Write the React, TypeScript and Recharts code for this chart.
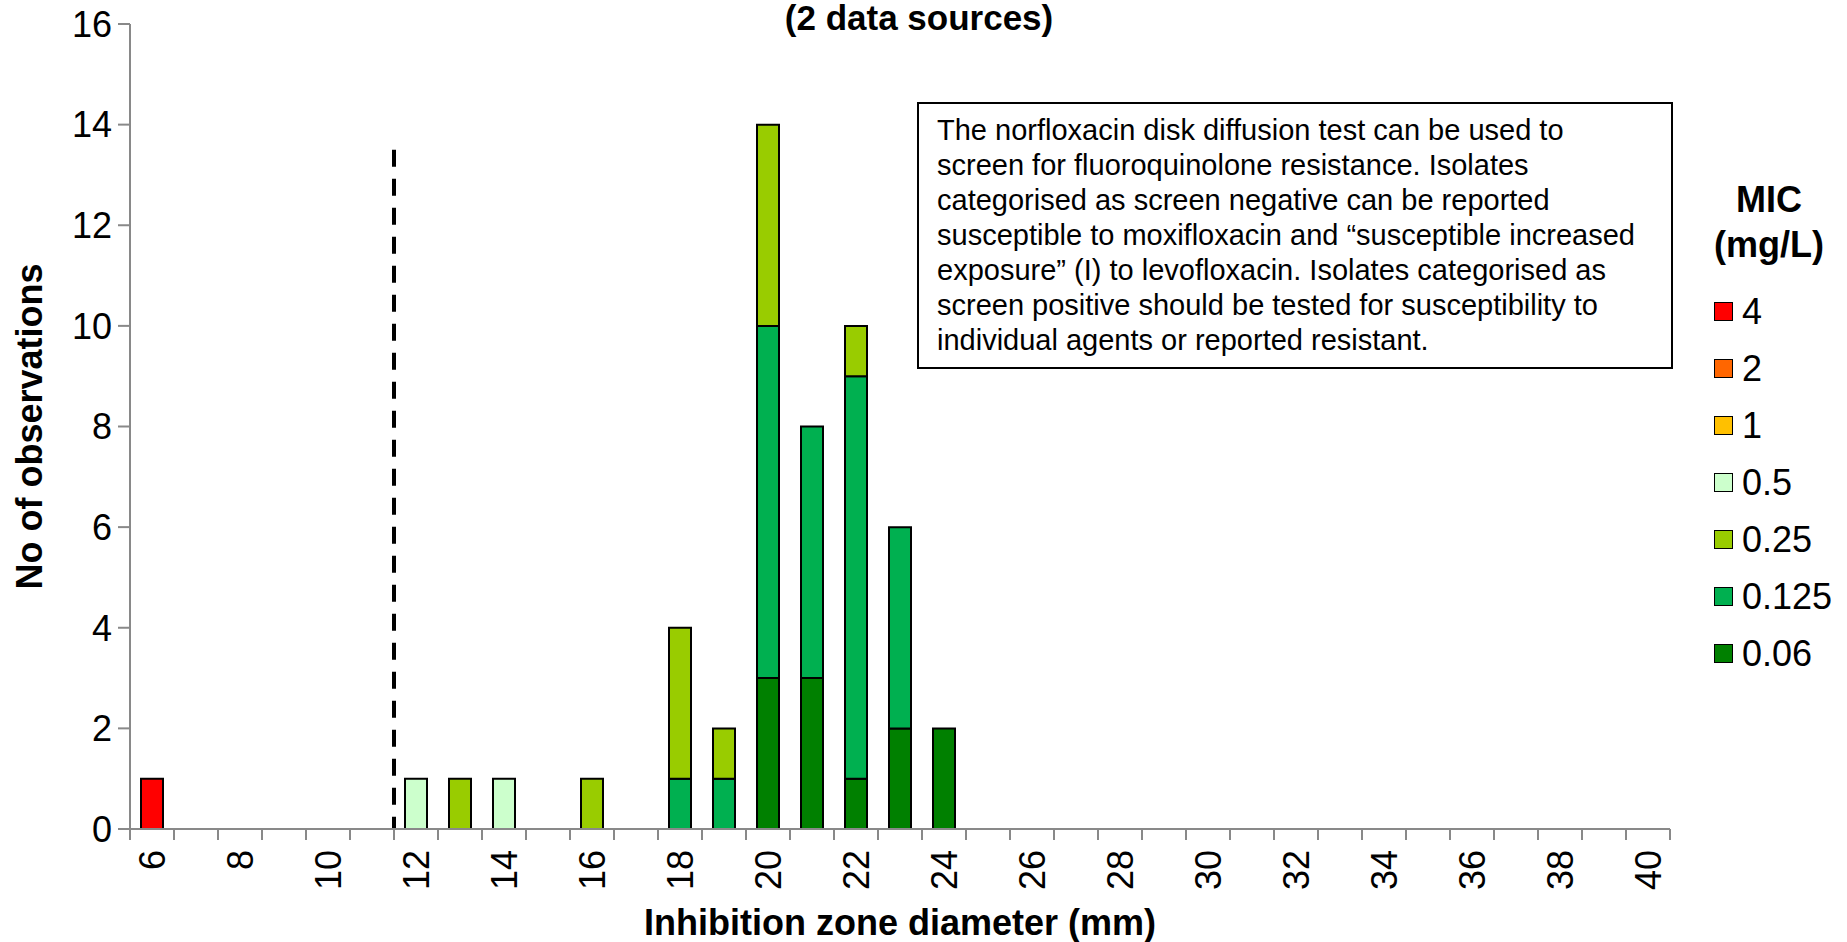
import React from 'react'
import { BarChart, Bar, XAxis, YAxis, ReferenceLine } from 'recharts'

// inhibition zone diameter (mm), one bar per mm
const zones = [6, 7, 8, 9, 10, 11, 12, 13, 14, 15, 16, 17, 18, 19, 20, 21, 22, 23, 24, 25, 26, 27, 28, 29, 30, 31, 32, 33, 34, 35, 36, 37, 38, 39, 40]

// counts per MIC (mg/L), same order as zones
const mic4 = [1, 0, 0, 0, 0, 0, 0, 0, 0, 0, 0, 0, 0, 0, 0, 0, 0, 0, 0, 0, 0, 0, 0, 0, 0, 0, 0, 0, 0, 0, 0, 0, 0, 0, 0]
const mic2 = [0, 0, 0, 0, 0, 0, 0, 0, 0, 0, 0, 0, 0, 0, 0, 0, 0, 0, 0, 0, 0, 0, 0, 0, 0, 0, 0, 0, 0, 0, 0, 0, 0, 0, 0]
const mic1 = [0, 0, 0, 0, 0, 0, 0, 0, 0, 0, 0, 0, 0, 0, 0, 0, 0, 0, 0, 0, 0, 0, 0, 0, 0, 0, 0, 0, 0, 0, 0, 0, 0, 0, 0]
const mic05 = [0, 0, 0, 0, 0, 0, 1, 0, 1, 0, 0, 0, 0, 0, 0, 0, 0, 0, 0, 0, 0, 0, 0, 0, 0, 0, 0, 0, 0, 0, 0, 0, 0, 0, 0]
const mic025 = [0, 0, 0, 0, 0, 0, 0, 1, 0, 0, 1, 0, 3, 1, 4, 0, 1, 0, 0, 0, 0, 0, 0, 0, 0, 0, 0, 0, 0, 0, 0, 0, 0, 0, 0]
const mic0125 = [0, 0, 0, 0, 0, 0, 0, 0, 0, 0, 0, 0, 1, 1, 7, 5, 8, 4, 0, 0, 0, 0, 0, 0, 0, 0, 0, 0, 0, 0, 0, 0, 0, 0, 0]
const mic006 = [0, 0, 0, 0, 0, 0, 0, 0, 0, 0, 0, 0, 0, 0, 3, 3, 1, 2, 2, 0, 0, 0, 0, 0, 0, 0, 0, 0, 0, 0, 0, 0, 0, 0, 0]

// legend order (top to bottom)
const micLabels = ['4', '2', '1', '0.5', '0.25', '0.125', '0.06']
const micKeys = ['m4', 'm2', 'm1', 'm05', 'm025', 'm0125', 'm006']
const micColors = ['#FF0000', '#FF6600', '#FFC000', '#CCFFCC', '#99CC00', '#00B050', '#008000']

const yTicks = [0, 2, 4, 6, 8, 10, 12, 14, 16]
const breakpoint = 11.5
const breakpointTop = 13.5

const noteLines = [
  'The norfloxacin disk diffusion test can be used to',
  'screen for fluoroquinolone resistance. Isolates',
  'categorised as screen negative can be reported',
  'susceptible to moxifloxacin and \u201csusceptible increased',
  'exposure\u201d (I) to levofloxacin. Isolates categorised as',
  'screen positive should be tested for susceptibility to',
  'individual agents or reported resistant.',
]

const data = zones.map((z, i) => ({
  zone: z,
  m4: mic4[i],
  m2: mic2[i],
  m1: mic1[i],
  m05: mic05[i],
  m025: mic025[i],
  m0125: mic0125[i],
  m006: mic006[i],
}))

// boundary ticks between bars + centre ticks for labels
const xTicks = [...zones.flatMap((z) => [z - 0.5, z]), zones[zones.length - 1] + 0.5]

const FONT = '"Liberation Sans", Arial, sans-serif'
const AXIS = '#898989'

const ZoneTick = (props: any) => {
  const { x, y, payload } = props
  const v = payload.value
  if (!Number.isInteger(v)) {
    return <line x1={x} x2={x} y1={y} y2={y + 11} stroke={AXIS} strokeWidth={2} />
  }
  if (v % 2 !== 0) return <g />
  return (
    <text x={x} y={y + 21} transform={`rotate(-90 ${x} ${y + 21})`} textAnchor="end" dominantBaseline="central" fontSize={36} fill="#000">
      {v}
    </text>
  )
}

const App = () => {
  const bottomUp = [...micKeys].reverse()
  const bottomColors = [...micColors].reverse()
  return (
    <div style={{ position: 'absolute', left: 0, top: 0, width: 1847, height: 942, fontFamily: FONT, background: '#fff' }}>
      <BarChart width={1847} height={942} data={data} margin={{ top: 24, right: 177, bottom: 0, left: 0 }}>
        <XAxis
          type="number"
          dataKey="zone"
          domain={[5.5, 40.5]}
          ticks={xTicks}
          interval={0}
          tick={<ZoneTick />}
          tickLine={false}
          tickSize={0}
          tickMargin={0}
          axisLine={{ stroke: AXIS, strokeWidth: 2 }}
          height={113}
          label={(p: any) => {
            const vb = p.viewBox
            return (
              <text x={vb.x + vb.width / 2} y={935} textAnchor="middle" fontSize={36} fontWeight="bold" fill="#000">
                Inhibition zone diameter (mm)
              </text>
            )
          }}
        />
        <YAxis
          type="number"
          domain={[0, 16]}
          ticks={yTicks}
          interval={0}
          width={130}
          tickSize={12}
          tickMargin={6}
          tick={{ fontSize: 36, fill: '#000' }}
          tickLine={{ stroke: AXIS, strokeWidth: 2 }}
          axisLine={{ stroke: AXIS, strokeWidth: 2 }}
          label={(p: any) => {
            const vb = p.viewBox
            const cy = vb.y + vb.height / 2
            return (
              <text x={29} y={cy} transform={`rotate(-90 29 ${cy})`} textAnchor="middle" dominantBaseline="central" fontSize={36} fontWeight="bold" fill="#000">
                No of observations
              </text>
            )
          }}
        />
        {bottomUp.map((k, i) => (
          <Bar key={k} dataKey={k} stackId="mic" fill={bottomColors[i]} stroke="#000" strokeWidth={2} barSize={22} isAnimationActive={false} />
        ))}
        <ReferenceLine
          segment={[
            { x: breakpoint, y: breakpointTop },
            { x: breakpoint, y: 0 },
          ]}
          stroke="#000"
          strokeWidth={4}
          strokeDasharray="17 12"
        />
      </BarChart>

      <div style={{ position: 'absolute', left: 0, top: 0, width: 1838, textAlign: 'center', fontSize: 35, lineHeight: '35px', fontWeight: 'bold' }}>
        (2 data sources)
      </div>

      <div
        style={{
          position: 'absolute',
          left: 917,
          top: 102,
          width: 756,
          height: 267,
          boxSizing: 'border-box',
          border: '2px solid #000',
          background: '#fff',
          padding: '9px 0 0 18px',
          fontSize: 29,
          lineHeight: '35px',
          whiteSpace: 'pre',
        }}
      >
        {noteLines.join('\n')}
      </div>

      <div style={{ position: 'absolute', left: 1669, top: 177, width: 200, textAlign: 'center', fontSize: 36, lineHeight: '45px', fontWeight: 'bold' }}>
        MIC
        <br />
        (mg/L)
      </div>
      <div style={{ position: 'absolute', left: 1714, top: 283 }}>
        {micLabels.map((lab, i) => (
          <div key={lab} style={{ display: 'flex', alignItems: 'center', height: 57 }}>
            <div style={{ width: 19, height: 19, boxSizing: 'border-box', border: '1.5px solid #000', background: micColors[i] }} />
            <span style={{ marginLeft: 9, fontSize: 36, lineHeight: '57px' }}>{lab}</span>
          </div>
        ))}
      </div>
    </div>
  )
}

export default App
